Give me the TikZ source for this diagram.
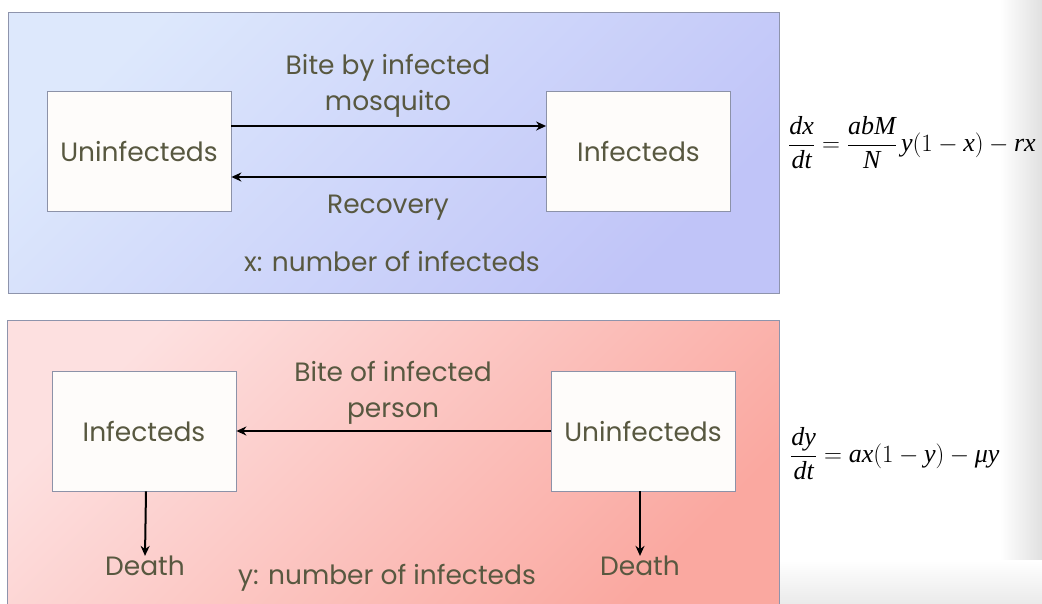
\documentclass[tikz,border=0pt]{standalone}
\usepackage{fontspec}
\setmainfont{Poppins}
\newfontfamily\tms{Liberation Serif}
\usetikzlibrary{arrows.meta}
\definecolor{txt}{HTML}{585840}
\definecolor{bluetl}{HTML}{DDE8FC}
\definecolor{bluebr}{HTML}{C0C4F8}
\definecolor{pinktl}{HTML}{FDE0E0}
\definecolor{pinkbr}{HTML}{FAA8A0}
\definecolor{panelborder}{HTML}{8E94AC}
\definecolor{boxborder}{HTML}{8C92A8}
\definecolor{boxfill}{HTML}{FEFCFA}
\tikzset{
  statebox/.style={draw=boxborder, line width=0.8pt, fill=boxfill, minimum width=184pt, minimum height=120pt, inner sep=0pt, font=\fontsize{26.5}{30}\selectfont, text=txt},
  lbl/.style={font=\fontsize{26.5}{36}\selectfont, text=txt, align=center, inner sep=0pt},
  flow/.style={line width=2pt, -{Stealth[length=10pt,width=9pt]}},
  eqn/.style={anchor=west, inner sep=0pt, font=\tms\fontsize{26}{30}\selectfont},
}
\begin{document}
\begin{tikzpicture}[x=1pt,y=-1pt]
\useasboundingbox (0,0) rectangle (1042,603);
\fill[white] (0,0) rectangle (1042,603);
% slide edge shade
\shade[left color=white, right color=black!12] (1000,0) rectangle (1042,603);
\shade[top color=white, bottom color=black!8] (780,560) rectangle (1042,603);
% panels
\shade[draw=panelborder, line width=0.8pt, left color=bluetl, right color=bluebr, shading angle=45] (8,12) rectangle (779,293);
\shade[draw=panelborder, line width=0.8pt, left color=pinktl, right color=pinkbr, shading angle=45] (7,320) rectangle (779,610);
% top panel
\node[statebox] (u1) at (139,151) {Uninfecteds};
\node[statebox] (i1) at (638.5,151) {Infecteds};
\coordinate (u1a) at (u1.east |- 0,126);
\coordinate (i1a) at (i1.west |- 0,126);
\coordinate (u1b) at (u1.east |- 0,177);
\coordinate (i1b) at (i1.west |- 0,177);
\draw[flow] (u1a) -- (i1a);
\draw[flow] (i1b) -- (u1b);
\node[lbl] (bite1) at (388,86) {Bite by infected\\mosquito};
\node[lbl] (rec) at (388,208) {Recovery};
\node[lbl] (xlab) at (392,261) {x: number of infecteds};
% bottom panel
\node[statebox] (i2) at (144,431) {Infecteds};
\node[statebox] (u2) at (643,431) {Uninfecteds};
\draw[flow] (u2) -- (i2);
\node[lbl] (bite2) at (393,393) {Bite of infected\\person};
\node[lbl] (d1) at (145,566) {Death};
\node[lbl] (d2) at (640,566) {Death};
\draw[flow] ([xshift=2pt]i2.south) -- (d1.north);
\draw[flow] ([xshift=-3pt]u2.south) -- (d2.north);
\node[lbl] (ylab) at (387,578) {y: number of infecteds};
% equations
\node[eqn] (eq1) at (788,143)
 {$\displaystyle\frac{\textit{dx}}{\textit{dt}}=\frac{\textit{abM}}{\textit{N}}\,\textit{y}\bigl(1-\textit{x}\bigr)-\textit{rx}$};
\node[eqn] (eq2) at (790,454)
 {$\displaystyle\frac{\textit{dy}}{\textit{dt}}=\textit{ax}\bigl(1-\textit{y}\bigr)-\textit{μy}$};
\end{tikzpicture}
\end{document}
